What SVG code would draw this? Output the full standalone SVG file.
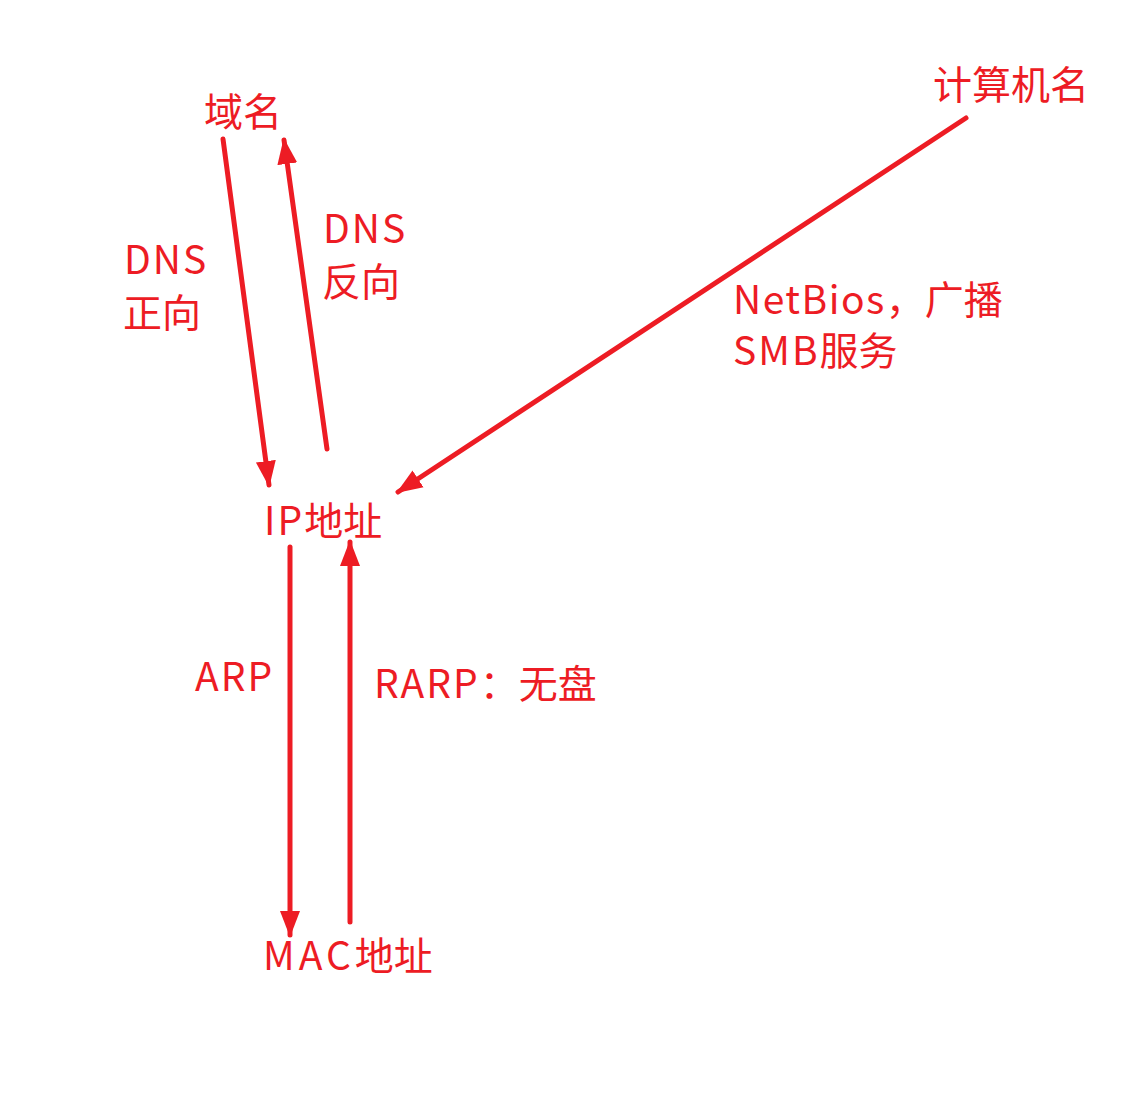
<svg xmlns="http://www.w3.org/2000/svg" width="1122" height="1117" viewBox="0 0 1122 1117">
<style>
text{font-family:"Noto Sans CJK SC","Noto Sans",sans-serif;font-size:39px;fill:#ED1C24}
.l{letter-spacing:2px}
.c{stroke:#ED1C24;stroke-width:5;stroke-linecap:round;fill:none}
</style>
<defs>
<marker id="ah" markerUnits="userSpaceOnUse" markerWidth="26" markerHeight="22" refX="24" refY="10" orient="auto" viewBox="0 0 26 20">
<path d="M0,0 L26,10 L0,20 Z" fill="#ED1C24"/>
</marker>
</defs>
<rect width="1122" height="1117" fill="#fff"/>
<g id="connectors">
<line class="c" x1="223" y1="139" x2="269" y2="485" marker-end="url(#ah)"/>
<line class="c" x1="327" y1="449" x2="284" y2="140" marker-end="url(#ah)"/>
<line class="c" x1="966" y1="118" x2="398" y2="492" marker-end="url(#ah)"/>
<line class="c" x1="290" y1="547" x2="290" y2="935" marker-end="url(#ah)"/>
<line class="c" x1="350" y1="922" x2="350" y2="542" marker-end="url(#ah)"/>
</g>
<g id="n-domain"><text x="204" y="126">域名</text></g>
<g id="n-computer"><text x="933" y="99">计算机名</text></g>
<g id="n-ip"><text x="264" y="535"><tspan class="l">IP</tspan>地址</text></g>
<g id="n-mac"><text x="263" y="970"><tspan class="l" style="letter-spacing:4px">MAC</tspan>地址</text></g>
<g id="labels">
<text x="124" y="274" class="l">DNS</text>
<text x="123" y="327">正向</text>
<text x="323" y="243" class="l">DNS</text>
<text x="322" y="296">反向</text>
<text x="733" y="314"><tspan style="letter-spacing:1.5px">NetBios</tspan>，广播</text>
<text x="733" y="365"><tspan class="l">SMB</tspan>服务</text>
<text x="195" y="691" class="l">ARP</text>
<text x="374" y="698"><tspan class="l">RARP</tspan>：无盘</text>
</g>
</svg>
